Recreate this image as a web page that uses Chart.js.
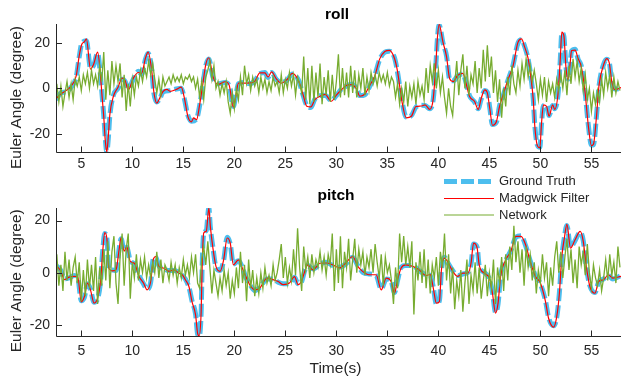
<!DOCTYPE html>
<html lang="en">
<head>
<meta charset="UTF-8">
<title>Euler angles: roll and pitch</title>
<script src="https://cdn.jsdelivr.net/npm/chart.js@4.4.1/dist/chart.umd.min.js"></script>
<style>
* { margin: 0; padding: 0; box-sizing: border-box; }
body { width: 621px; height: 381px; background: #fff; overflow: hidden; position: relative; }
canvas { position: absolute; left: 0; top: 0; }
</style>
</head>
<body>
<canvas id="rollChart" width="621" height="381"></canvas>
<canvas id="pitchChart" width="621" height="381"></canvas>
<script>
// ---- data ----
const xTicks = [5, 10, 15, 20, 25, 30, 35, 40, 45, 50, 55];
const yTicks = [-20, 0, 20];
const seriesNames = ['Ground Truth', 'Madgwick Filter', 'Network'];

// [time, degrees]
const rollTruth = [[2.52,-5],[3,-2],[3.5,-1.5],[4,0.5],[4.5,5],[4.8,14],[5.05,20],[5.5,21],[5.9,9],[6.2,10],[6.6,15.5],[6.85,7],[7.0,-1],[7.2,-12],[7.35,-22],[7.5,-28.1],[7.65,-22],[7.8,-12],[8.15,-3],[8.6,0],[9.0,4],[9.3,3],[9.6,-0.3],[10.1,4],[10.6,7.5],[10.9,6.2],[11.3,13],[11.55,15.5],[11.9,8.4],[12.1,-1.7],[12.4,-6],[12.7,-4.6],[13.0,-1.7],[13.7,-1],[14.3,-0.3],[14.8,0],[15.1,-4.6],[15.45,-12],[15.8,-14.5],[16.3,-13.4],[16.6,-7.6],[16.9,1.2],[17.2,10],[17.5,13],[17.9,5],[18.4,2],[19.1,2.6],[19.5,1],[19.9,-8],[20.15,-3],[20.4,2],[20.9,2.6],[21.5,2],[22.0,3.3],[22.5,6.5],[23.0,7],[23.3,4.8],[23.65,7],[24.1,4],[24.6,2.6],[25.1,3.3],[25.7,6.3],[26.3,3.5],[26.75,-3.2],[27.1,-7.6],[27.5,-8.5],[27.9,-4.7],[28.4,-3.2],[28.9,-3],[29.5,-5.4],[30.0,-3.2],[30.5,-0.3],[31.0,1],[31.5,1.9],[32.0,-0.3],[32.3,-3.2],[32.8,-2.8],[33.3,1.2],[33.75,5.5],[34.25,12.8],[34.75,16],[35.2,16.4],[35.7,13.5],[36.0,7],[36.4,-4.7],[36.85,-12.7],[37.35,-12],[37.8,-8.3],[38.3,-7.5],[38.7,-7.6],[39.15,-9],[39.5,-4.7],[39.75,10],[39.9,21.5],[40.07,28],[40.45,20],[40.8,14.3],[41.1,4],[41.45,3.3],[41.9,5.5],[42.4,6.3],[42.75,1.9],[43.05,-3.2],[43.55,-6.1],[43.9,-9],[44.2,-4.7],[44.55,-1],[44.8,-1.7],[45.05,-9],[45.3,-16],[45.7,-14.8],[46.0,-7.6],[46.35,-3.2],[46.8,3.3],[47.3,9.9],[47.8,20],[48.15,21.5],[48.45,18.6],[48.8,12.8],[49.1,4],[49.3,-4.7],[49.45,-16.3],[49.7,-25],[49.95,-26],[50.1,-16.3],[50.3,-7.6],[50.6,-7.6],[50.85,-12],[51.2,-7.6],[51.4,-9],[51.75,-1.7],[51.95,12.8],[52.1,24.5],[52.3,23],[52.5,9.9],[52.7,4],[52.9,10],[53.05,16.4],[53.4,17.2],[53.7,12.8],[54.0,10],[54.35,-0.3],[54.7,-16.3],[55.0,-25],[55.2,-25],[55.5,-12],[55.75,1.2],[56.15,10],[56.5,12.8],[56.75,11.5],[57.0,2.6],[57.3,-0.3],[57.9,0]];

const rollMadgwick = [[2.52,-4.5],[3,-2.5],[3.5,-1],[4,1],[4.5,5.5],[4.8,14.5],[5.05,19.5],[5.3,20.5],[5.5,21.8],[5.9,8.5],[6.2,10.5],[6.6,16],[6.85,7.5],[7.0,-1.5],[7.2,-12.5],[7.35,-23],[7.5,-28.1],[7.65,-21],[7.8,-11.5],[8.15,-3.5],[8.6,0.5],[9.0,4.5],[9.3,3.5],[9.6,-0.8],[10.1,4.5],[10.6,7],[10.9,6.5],[11.3,13.5],[11.55,16],[11.9,8],[12.1,-1.2],[12.4,-6.5],[12.7,-4.2],[13.0,-1.5],[13.4,-0.5],[13.7,-1.3],[14.3,-0.5],[14.8,0.5],[15.1,-4.2],[15.45,-12.5],[15.8,-14.8],[16.0,-13],[16.3,-13.8],[16.6,-7.2],[16.9,1.5],[17.2,10.5],[17.5,13.5],[17.9,5.3],[18.4,1.7],[19.1,2.9],[19.5,1.3],[19.9,-8.3],[20.15,-3.3],[20.4,2.3],[20.9,2.3],[21.5,2.4],[22.0,3.1],[22.5,6.8],[23.0,6.8],[23.3,5],[23.65,7.3],[24.1,4.3],[24.6,2.3],[25.1,3.6],[25.7,6.6],[26.3,3.2],[26.75,-3],[27.1,-7.9],[27.5,-8.2],[27.9,-5],[28.4,-3.5],[28.9,-2.7],[29.5,-5.7],[30.0,-3],[30.5,-0.6],[31.0,1.3],[31.5,1.6],[32.0,-0.5],[32.3,-3.5],[32.8,-2.5],[33.3,1.5],[33.75,5.2],[34.25,13],[34.75,16.3],[35.2,16.8],[35.7,13.2],[36.0,7.4],[36.4,-5],[36.85,-13],[37.35,-12.3],[37.8,-8],[38.3,-7.8],[38.7,-7.3],[39.15,-9.3],[39.5,-4.4],[39.75,10.5],[39.9,22],[40.07,28.2],[40.45,20.4],[40.8,14],[41.1,4.3],[41.45,3],[41.9,5.8],[42.4,6.6],[42.75,1.6],[43.05,-3.5],[43.55,-5.8],[43.9,-9.3],[44.2,-4.4],[44.55,-0.7],[44.8,-2],[45.05,-9.3],[45.3,-16.3],[45.7,-14.5],[46.0,-7.9],[46.35,-2.9],[46.8,3.6],[47.3,9.6],[47.8,20.3],[48.15,21.8],[48.45,18.3],[48.8,13.1],[49.1,3.7],[49.3,-5],[49.45,-16.6],[49.7,-25.3],[49.95,-26.3],[50.1,-16],[50.3,-7.3],[50.6,-7.9],[50.85,-12.3],[51.2,-7.3],[51.4,-9.3],[51.75,-1.4],[51.95,13.1],[52.1,24.8],[52.3,23.3],[52.5,9.6],[52.7,3.7],[52.9,10.3],[53.05,16.7],[53.4,16.9],[53.7,13.1],[54.0,9.7],[54.35,-0.6],[54.7,-16.6],[55.0,-25.3],[55.2,-24.7],[55.5,-12.3],[55.75,1.5],[56.15,9.7],[56.5,13.1],[56.75,11.2],[57.0,2.9],[57.3,-0.6],[57.9,0.3]];

// network output, one value every 0.2 s starting at 2.6 s
const netStart = 2.6, netStep = 0.2;
const rollNetwork = [
  2,-6,1,-8,-2, 3,-4,2,-5,4, 1,5,-1,6,2, 7,0,8,2,6, 1,10,3,16,-5,
  8,-3,12,2,10, 3,11,-4,6,-10, 2,-8,4,-3,5, 1,8,3,9,5, 12,6,11,4,-2,
  4,-3,5,1,3, 5,2,6,3,5, 3,6,2,5,4, 6,3,5,0,4, -4,3,-5,5,8,
  12,4,10,0,3, -3,2,-2,3,-6, -11,-2,-9,0,-5, 5,-3,10,2,6, -1,5,1,4,-2,
  5,0,4,-2,3, -1,5,1,3,-2, 6,-2,4,0,7, 1,6,-3,5,2, -2,14,-5,9,-7,
  10,-6,7,-4,11, -7,5,-3,8,-6, 6,-5,3,15,-4, 9,-3,7,-4,10, -2,8,-4,6,0,
  9,-3,5,-1,7, 2,6,1,7,3, 6,2,7,1,5, 3,-4,2,-7,0, -6,3,-8,1,-4,
  2,-7,3,-3,1, -5,9,-2,10,3, 11,0,8,-2,5, -4,-11,0,-8,-12, 2,12,-3,8,15,
  0,10,-3,6,2, 12,-2,9,0,17, 3,19,5,14,-2, 8,-6,4,-13,0, -8,5,-3,10,2,
  -2,8,1,11,4, 13,5,10,3,8, 2,-5,4,-3,5, -6,3,-2,2,-4, 4,-1,6,0,8,
  -3,10,2,13,5, 12,3,9,-1,6, -5,0,-10,-2,-7, -1,-6,4,-3,7, 0,6,-4,5,-2,
  3,-1
];

const pitchTruth = [[2.52,2.8],[3.0,0.8],[3.35,-2.4],[3.8,-2],[4.3,-1.1],[4.65,-1.8],[5.0,-10.8],[5.3,-9.5],[5.6,-4.3],[5.9,-6.3],[6.25,-11.4],[6.6,-10],[6.9,-3],[7.1,8.5],[7.3,15],[7.5,13.6],[7.7,1.4],[8.05,1],[8.4,0.8],[8.7,9],[8.9,13],[9.2,8.5],[9.45,9.7],[9.8,4.6],[10.2,3.3],[10.65,-1.1],[11.1,-4.3],[11.45,-6.3],[11.8,-3.7],[12.05,5.3],[12.3,5.9],[12.6,2.7],[13.1,1.4],[13.6,0.8],[14.1,0.8],[14.55,0.1],[14.9,-1.1],[15.2,-2.4],[15.55,-5.6],[15.85,-10.8],[16.2,-15.9],[16.4,-23.6],[16.55,-24.3],[16.75,-15],[16.85,3.3],[17.0,14.9],[17.25,16.2],[17.5,24.8],[17.65,17.4],[17.9,9.7],[18.2,2.1],[18.6,0.8],[18.95,4.6],[19.3,13.6],[19.6,11],[19.9,3.3],[20.4,4.6],[20.9,0.8],[21.05,-1.1],[21.5,-4.3],[22.0,-6.9],[22.5,-5.6],[23.2,-2.4],[23.8,-2.4],[24.3,-3.7],[24.8,-4.3],[25.4,-4.3],[25.9,-1.8],[26.25,-4.3],[26.6,-3.4],[26.9,0.8],[27.2,2.7],[27.7,1.4],[28.4,3.3],[29.0,4],[29.65,2.7],[30.3,2.1],[30.9,3.3],[31.6,5.9],[32.1,2.7],[32.6,0.1],[33.2,-0.5],[33.9,-1.1],[34.4,-6.3],[34.9,-2.4],[35.35,-3],[35.7,-7.6],[36.0,-3],[36.35,2.1],[36.8,2.7],[37.5,2.7],[38.1,0.8],[38.8,-0.8],[39.2,-1],[39.5,-5.6],[39.8,-12],[40.1,-10.8],[40.3,0.8],[40.6,5.9],[40.9,4],[41.4,0.8],[41.9,-1.1],[42.4,-0.5],[42.9,0.1],[43.2,3.3],[43.45,11],[43.8,9.7],[44.0,2.7],[44.5,0.1],[45.0,-2.4],[45.3,-7.6],[45.6,-15.2],[45.85,-12],[46.1,-1.1],[46.6,4.6],[47.1,8.5],[47.6,13.6],[48.1,14.2],[48.55,10.4],[49.0,4.6],[49.5,-1.1],[50.0,-4.3],[50.5,-10.8],[50.8,-17.2],[51.3,-20.4],[51.6,-17.2],[51.85,-8.2],[52.1,5.9],[52.35,13.6],[52.6,18.1],[52.95,9.7],[53.4,12.3],[53.9,15.5],[54.2,12.3],[54.5,2.1],[54.85,-5],[55.35,-7.6],[55.7,-3.7],[56.2,-2.4],[56.65,-1.1],[57.1,-2.4],[57.9,-1.1]];

const pitchMadgwick = [[2.52,3],[3.0,0.5],[3.35,-2.7],[3.8,-1.7],[4.3,-1.4],[4.65,-1.5],[5.0,-11.2],[5.3,-9.2],[5.6,-4],[5.9,-6.6],[6.25,-11.7],[6.6,-9.7],[6.9,-2.7],[7.1,8.2],[7.3,15.4],[7.5,13.3],[7.7,1.7],[8.05,0.7],[8.4,1.1],[8.7,8.7],[8.9,13.4],[9.2,8.2],[9.45,10],[9.8,4.3],[10.2,3.6],[10.65,-1.4],[11.1,-4],[11.45,-6.6],[11.8,-3.4],[12.05,5],[12.3,6.2],[12.6,2.4],[13.1,1.7],[13.6,0.5],[14.1,1.1],[14.55,-0.2],[14.9,-0.8],[15.2,-2.7],[15.55,-5.3],[15.85,-11.1],[16.2,-16.2],[16.4,-23.3],[16.55,-24.3],[16.75,-14.7],[16.85,3],[17.0,15.2],[17.25,15.9],[17.5,24.8],[17.65,17.7],[17.9,9.4],[18.2,2.4],[18.6,0.5],[18.95,4.9],[19.3,13.3],[19.6,11.3],[19.9,3],[20.4,4.9],[20.9,0.5],[21.05,-0.8],[21.5,-4.6],[22.0,-6.6],[22.5,-5.9],[23.2,-2.1],[23.8,-2.7],[24.3,-3.4],[24.8,-4.6],[25.4,-4],[25.9,-1.5],[26.25,-4.6],[26.6,-3.1],[26.9,0.5],[27.2,3],[27.7,1.1],[28.4,3.6],[29.0,3.7],[29.65,3],[30.3,1.8],[30.9,3.6],[31.6,6.2],[32.1,2.4],[32.6,0.4],[33.2,-0.8],[33.9,-0.8],[34.4,-6.6],[34.9,-2.1],[35.35,-3.3],[35.7,-7.9],[36.0,-2.7],[36.35,1.8],[36.8,3],[37.5,2.4],[38.1,1.1],[38.8,-1.1],[39.2,-0.7],[39.5,-5.9],[39.8,-11.7],[40.1,-11.1],[40.3,1.1],[40.6,5.6],[40.9,4.3],[41.4,0.5],[41.9,-1.4],[42.4,-0.2],[42.9,-0.2],[43.2,3.6],[43.45,11.3],[43.8,9.4],[44.0,3],[44.5,-0.2],[45.0,-2.1],[45.3,-7.9],[45.6,-15.5],[45.85,-11.7],[46.1,-1.4],[46.6,4.9],[47.1,8.2],[47.6,13.9],[48.1,13.9],[48.55,10.7],[49.0,4.3],[49.5,-1.4],[50.0,-4],[50.5,-11.1],[50.8,-17.5],[51.3,-20.9],[51.6,-16.9],[51.85,-8.5],[52.1,6.2],[52.35,13.3],[52.6,18.5],[52.95,9.4],[53.4,12.6],[53.9,15.8],[54.2,12],[54.5,2.4],[54.85,-5.3],[55.35,-7.9],[55.7,-3.4],[56.2,-2.7],[56.65,-0.8],[57.1,-2.1],[57.9,-1.4]];

const pitchNetwork = [
  7,-5,3,-7,8, -3,5,-5,2,6, -4,4,-11,1,-9, 5,-6,3,-7,6, -12,2,-5,9,-3,
  12,-6,8,14,-4, -12,6,15,-5,9, 15,-10,4,-2,7, -3,5,0,6,-2, 3,-2,4,0,8,
  -2,5,-4,3,1, -3,4,-1,3,-4, 2,-2,5,-1,3, -2,6,0,7,-4, -6,5,10,3,12,
  2,-8,1,-4,-9, -2,-7,1,-5,0, -10,-3,-8,2,-6, 8,-4,3,-11,5, -6,1,-9,-2,-8,
  0,-6,2,-4,-1, -5,3,-3,0,5, 11,-2,6,-4,2, -3,9,-1,17,2, -7,10,1,6,-2,
  7,0,5,2,8, 1,6,-1,7,3, 15,-7,9,-4,14, -6,8,2,13,-3, 5,13,0,9,3,
  8,-1,6,2,9, 0,11,4,-2,7, -5,6,0,3,-3, -12,2,-6,15,4, 14,3,10,2,12,
  -16,4,-3,8,-4, 9,-6,5,-8,3, -2,6,-5,8,2, 15,-3,7,-8,2, -14,-3,-9,1,-15,
  -4,5,-12,-1,-7, 4,-8,2,-10,-3, 3,-9,0,-6,5, -12,2,-4,6,-7, 7,-3,10,1,18,
  4,12,0,9,-5, 10,2,7,-3,4, -8,1,-4,7,-2, 4,-9,2,-5,6, 12,0,8,-2,6,
  13,1,9,-4,5, -6,10,3,8,-1, 11,0,-6,3,-2, -5,1,-7,-2,5, -3,7,-1,4,-4,
  10,2
];

// ---- drawing ----
const FONT = '"Liberation Sans", Arial, Helvetica, sans-serif';
const AXIS = '#262626';
const BLUE = '#4DBEEE', RED = '#FF0000', GREEN = '#77AC30';
const TRUTH_DASH = [13, 4];

const toXY = arr => arr.map(p => ({x: p[0], y: p[1]}));
const netXY = arr => arr.map((v, i) => ({x: netStart + i * netStep, y: v}));

// MATLAB look: axis lines on top, inward ticks, titles, labels, legend
const matlabAxes = {
  id: 'matlabAxes',
  afterDraw(chart, args, o) {
    const ctx = chart.ctx, a = chart.chartArea;
    const xs = chart.scales.x, ys = chart.scales.y;
    ctx.save();
    ctx.strokeStyle = AXIS;
    ctx.lineWidth = 1;
    ctx.setLineDash([]);
    ctx.beginPath();
    ctx.moveTo(a.left + 0.5, a.top);
    ctx.lineTo(a.left + 0.5, a.bottom + 0.5);
    ctx.lineTo(a.right, a.bottom + 0.5);
    xTicks.forEach(v => {
      const px = Math.round(xs.getPixelForValue(v)) + 0.5;
      ctx.moveTo(px, a.bottom);
      ctx.lineTo(px, a.bottom - 5.5);
    });
    yTicks.forEach(v => {
      const py = Math.round(ys.getPixelForValue(v)) + 0.5;
      ctx.moveTo(a.left, py);
      ctx.lineTo(a.left + 6, py);
    });
    ctx.stroke();

    ctx.fillStyle = '#000';
    ctx.font = 'bold 15.5px ' + FONT;
    ctx.textAlign = 'center';
    ctx.textBaseline = 'alphabetic';
    ctx.fillText(o.title, o.titleX, o.titleY);

    ctx.fillStyle = AXIS;
    ctx.font = '15.5px ' + FONT;
    if (o.xLabel) ctx.fillText(o.xLabel, 335.5, 373);

    ctx.save();
    ctx.translate(16.5, o.yLabelY);
    ctx.rotate(-Math.PI / 2);
    ctx.textBaseline = 'middle';
    ctx.fillText('Euler Angle (degree)', 0, 0);
    ctx.restore();

    if (o.legend) {
      const rows = [181.5, 198.5, 215];
      const styles = [
        {c: BLUE, w: 5, d: TRUTH_DASH},
        {c: RED, w: 1.2, d: []},
        {c: GREEN, w: 1.2, d: []}
      ];
      ctx.font = '13px ' + FONT;
      ctx.textAlign = 'left';
      ctx.textBaseline = 'middle';
      seriesNames.forEach((name, i) => {
        const s = styles[i];
        ctx.beginPath();
        ctx.strokeStyle = s.c;
        ctx.lineWidth = s.w;
        ctx.setLineDash(s.d);
        ctx.moveTo(444, rows[i]);
        ctx.lineTo(494, rows[i]);
        ctx.stroke();
        ctx.fillStyle = AXIS;
        ctx.fillText(name, 499, rows[i]);
      });
    }
    ctx.restore();
  }
};

function makeChart(id, truth, madgwick, network, cfg) {
  return new Chart(document.getElementById(id), {
    type: 'line',
    data: {
      datasets: [
        {label: seriesNames[0], data: toXY(truth), borderColor: BLUE, borderWidth: 5,
         borderDash: TRUTH_DASH, cubicInterpolationMode: 'monotone', order: 3, clip: 0},
        {label: seriesNames[1], data: toXY(madgwick), borderColor: RED, borderWidth: 1.2,
         cubicInterpolationMode: 'monotone', order: 2, clip: 0},
        {label: seriesNames[2], data: netXY(network), borderColor: GREEN, borderWidth: 1.3,
         tension: 0, order: 1, clip: 0}
      ]
    },
    options: {
      responsive: false,
      animation: false,
      events: [],
      elements: {point: {radius: 0}, line: {fill: false, borderCapStyle: 'butt'}},
      layout: {padding: {top: cfg.top, bottom: cfg.bottom, left: 0, right: 0}},
      scales: {
        x: {
          type: 'linear', min: 2.52, max: 57.9,
          grid: {display: false, drawTicks: false},
          border: {display: false},
          afterBuildTicks: s => { s.ticks = xTicks.map(v => ({value: v})); },
          afterFit: s => { s.height = cfg.xAxisHeight; },
          ticks: {color: AXIS, font: {family: FONT, size: 14}, padding: cfg.tickPad,
                  autoSkip: false, maxRotation: 0, callback: v => String(v)}
        },
        y: {
          type: 'linear', min: cfg.yMin, max: cfg.yMax,
          grid: {display: false, drawTicks: false},
          border: {display: false},
          afterBuildTicks: s => { s.ticks = yTicks.map(v => ({value: v})); },
          afterFit: s => { s.width = 56; },
          ticks: {color: AXIS, font: {family: FONT, size: 14}, padding: 6,
                  callback: v => String(v)}
        }
      },
      plugins: {
        legend: {display: false},
        tooltip: {enabled: false},
        matlabAxes: cfg.deco
      }
    },
    plugins: [matlabAxes]
  });
}

makeChart('rollChart', rollTruth, rollMadgwick, rollNetwork, {
  top: 24, bottom: 204, xAxisHeight: 25, tickPad: 4, yMin: -28.1, yMax: 28.4,
  deco: {title: 'roll', titleX: 337, titleY: 18.5, yLabelY: 97.5, legend: false}
});

makeChart('pitchChart', pitchTruth, pitchMadgwick, pitchNetwork, {
  top: 208, bottom: 0, xAxisHeight: 45, tickPad: 7, yMin: -24.3, yMax: 24.8,
  deco: {title: 'pitch', titleX: 336, titleY: 200, yLabelY: 280.8, legend: true, xLabel: 'Time(s)'}
});
</script>
</body>
</html>
